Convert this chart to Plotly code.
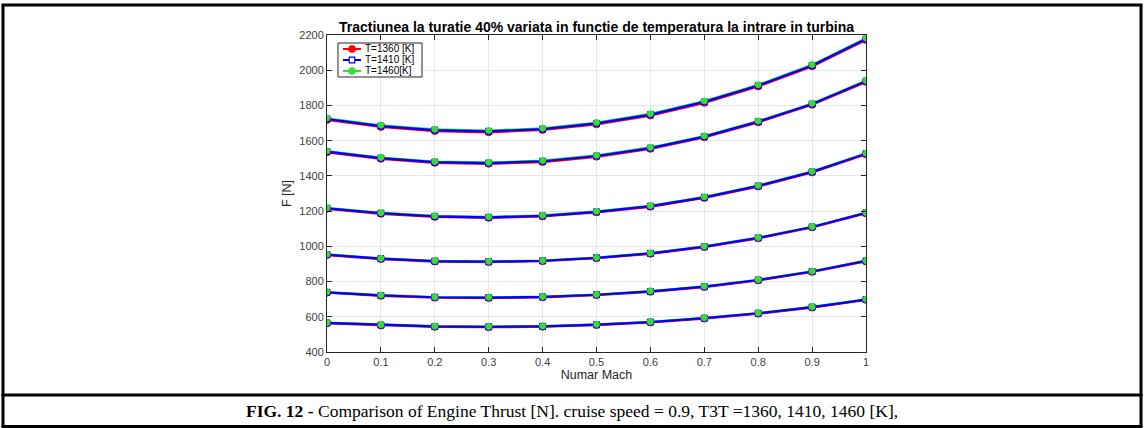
import plotly.graph_objects as go

mach = [0, 0.1, 0.2, 0.3, 0.4, 0.5, 0.6, 0.7, 0.8, 0.9, 1.0]

# Thrust F [N] curves (six curves per turbine-inlet temperature)
F_1360 = [
    [1718, 1678, 1655, 1648, 1661, 1693, 1743, 1815, 1908, 2022, 2172],
    [1534, 1497, 1474, 1469, 1479, 1509, 1554, 1619, 1704, 1804, 1934],
    [1213, 1185, 1167, 1162, 1170, 1193, 1225, 1275, 1340, 1420, 1523],
    [951, 928, 914, 911, 916, 933, 958, 996, 1046, 1108, 1188],
    [737, 719, 709, 707, 711, 723, 742, 769, 807, 855, 915],
    [563, 551, 543, 541, 544, 553, 568, 590, 618, 653, 696],
]
F_1410 = [
    [1723, 1683, 1660, 1653, 1666, 1698, 1748, 1820, 1913, 2027, 2177],
    [1538, 1501, 1478, 1473, 1483, 1513, 1558, 1623, 1708, 1808, 1938],
    [1216, 1188, 1170, 1165, 1173, 1196, 1228, 1278, 1343, 1423, 1526],
    [953, 930, 916, 913, 918, 935, 960, 998, 1048, 1110, 1190],
    [739, 721, 711, 709, 713, 725, 744, 771, 809, 857, 917],
    [565, 553, 545, 543, 546, 555, 570, 592, 620, 655, 698],
]
F_1460 = [
    [1728, 1688, 1665, 1658, 1671, 1703, 1753, 1825, 1918, 2032, 2182],
    [1542, 1505, 1482, 1477, 1487, 1517, 1562, 1627, 1712, 1812, 1942],
    [1219, 1191, 1173, 1168, 1176, 1199, 1231, 1281, 1346, 1426, 1529],
    [955, 932, 918, 915, 920, 937, 962, 1000, 1050, 1112, 1192],
    [741, 723, 713, 711, 715, 727, 746, 773, 811, 859, 919],
    [567, 555, 547, 545, 548, 557, 572, 594, 622, 657, 700],
]

series_names = ["T=1360 [K]", "T=1410 [K]", "T=1460[K]"]
series_data = [F_1360, F_1410, F_1460]
series_colors = ["#ff0000", "#0000ff", "#33dd33"]
series_symbols = ["circle", "square", "circle"]
series_msizes = [7, 6, 6]

x_ticks = [0, 0.1, 0.2, 0.3, 0.4, 0.5, 0.6, 0.7, 0.8, 0.9, 1]
x_tick_labels = ["0", "0.1", "0.2", "0.3", "0.4", "0.5", "0.6", "0.7", "0.8", "0.9", "1"]
y_ticks = [400, 600, 800, 1000, 1200, 1400, 1600, 1800, 2000, 2200]

W, H = 1144, 428
PL, PR, PT, PB = 327, 866, 35, 352

fig = go.Figure()
# lines first (red, green, then blue on top), markers afterwards (red, blue, green)
line_order = [0, 2, 1]
line_widths = {0: 2.4, 1: 2.2, 2: 2.0}
for k in line_order:
    for ys in series_data[k]:
        fig.add_trace(go.Scatter(
            x=mach, y=ys, mode="lines", name=series_names[k],
            legendgroup=series_names[k], showlegend=False,
            line=dict(color=series_colors[k], width=line_widths[k]),
        ))
for k in [0, 1, 2]:
    for ys in series_data[k]:
        fig.add_trace(go.Scatter(
            x=mach, y=ys, mode="markers", name=series_names[k],
            legendgroup=series_names[k], showlegend=False,
            marker=dict(symbol=series_symbols[k], size=series_msizes[k],
                        color=series_colors[k],
                        line=dict(color=series_colors[k], width=1)),
        ))


def px_x(p):
    return (p - PL) / (PR - PL)


def px_y(p):
    return (PB - p) / (PB - PT)


shapes = []
for (x0, y0, x1, y1) in [
    (1.5, 5, 1142.5, 5),          # top border
    (3, 5, 3, 427),               # left border
    (1141, 5, 1141, 427),         # right border
    (1.5, 395, 1142.5, 395),      # separator
    (1.5, 426.5, 1142.5, 426.5),  # bottom border
]:
    shapes.append(dict(type="line", xref="paper", yref="paper",
                       x0=px_x(x0), y0=px_y(y0), x1=px_x(x1), y1=px_y(y1),
                       line=dict(color="black", width=3)))

# compact MATLAB-style legend box
annotations = []
LX0, LX1, LY0, LY1 = 338, 422, 43, 77
shapes.append(dict(type="rect", xref="paper", yref="paper",
                   x0=px_x(LX0), x1=px_x(LX1), y0=px_y(LY1), y1=px_y(LY0),
                   fillcolor="white", line=dict(color="#262626", width=1), layer="above"))
row_y = [49, 60, 71]
for name, color, sym, ry in zip(series_names, series_colors, series_symbols, row_y):
    shapes.append(dict(type="line", xref="paper", yref="paper",
                       x0=px_x(343), x1=px_x(361), y0=px_y(ry), y1=px_y(ry),
                       line=dict(color=color, width=2), layer="above"))
    r = 3.2 if sym == "circle" else 2.8
    shapes.append(dict(type="circle" if sym == "circle" else "rect",
                       xref="paper", yref="paper",
                       x0=px_x(352 - r), x1=px_x(352 + r),
                       y0=px_y(ry + r), y1=px_y(ry - r),
                       fillcolor=color if sym == "circle" else "white",
                       line=dict(color=color, width=1.2), layer="above"))
    annotations.append(dict(xref="paper", yref="paper", x=px_x(363), y=px_y(ry),
                            xanchor="left", yanchor="middle", showarrow=False,
                            text=name,
                            font=dict(family="Liberation Sans, Arial", size=10,
                                      color="#000000")))

annotations.append(dict(
    xref="paper", yref="paper", x=px_x(572), y=px_y(411),
    xanchor="center", yanchor="middle", showarrow=False,
    text="<b>FIG. 12 -</b> Comparison of Engine Thrust [N]. cruise speed = 0.9, T3T =1360, 1410, 1460 [K],",
    font=dict(family="Liberation Serif, Times New Roman", size=17.5, color="black"),
))

axis_common = dict(
    showline=True, mirror="ticks", linecolor="#262626", linewidth=1,
    ticks="inside", ticklen=5, tickcolor="#262626",
    showgrid=True, gridcolor="#e6e6e6", gridwidth=1,
    zeroline=False,
    tickfont=dict(family="Liberation Sans, Arial", size=11, color="#404040"),
)

fig.update_layout(
    width=W, height=H,
    margin=dict(l=PL, r=W - PR, t=PT, b=H - PB),
    paper_bgcolor="white", plot_bgcolor="white",
    showlegend=False,
    font=dict(family="Liberation Sans, Arial", size=11, color="#262626"),
    title=dict(
        text="<b>Tractiunea la turatie 40% variata in functie de temperatura la intrare in turbina</b>",
        x=0.5, xanchor="center", xref="paper",
        y=1 - 32 / H, yanchor="bottom",
        font=dict(family="Liberation Sans, Arial", size=14, color="#000000"),
    ),
    xaxis=dict(range=[0, 1], tickvals=x_ticks, ticktext=x_tick_labels,
               title=dict(text="Numar Mach", standoff=3,
                          font=dict(size=12.5, color="#262626")),
               **axis_common),
    yaxis=dict(range=[400, 2200], tickvals=y_ticks,
               title=dict(text="F [N]", standoff=4,
                          font=dict(size=12.5, color="#262626")),
               **axis_common),
    shapes=shapes,
    annotations=annotations,
)

fig.write_html("out.html")
